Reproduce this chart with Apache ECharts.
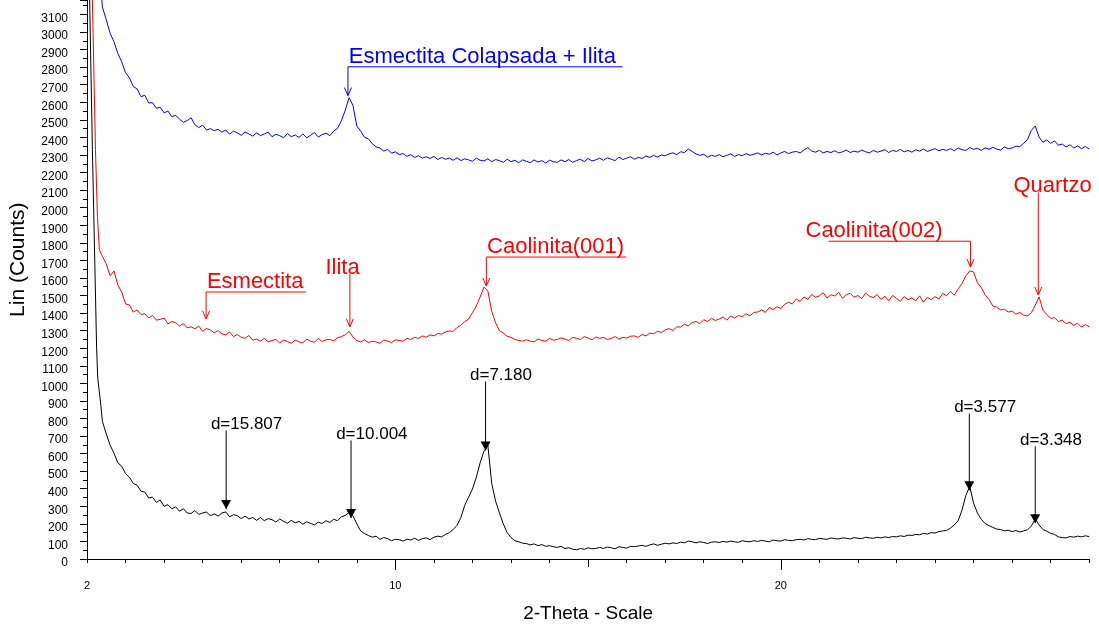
<!DOCTYPE html>
<html>
<head>
<meta charset="utf-8">
<script src="https://cdn.jsdelivr.net/npm/echarts@6/dist/echarts.min.js"></script>
<style>
html,body{margin:0;padding:0;background:#fff;}
#chart{width:1099px;height:628px;}
</style>
</head>
<body>
<div id="chart"></div>
<script>
// ---- scan grid (2-Theta) ----
const twoThetaStart = 2.4;
const twoThetaStep = 0.1;
const xLabelValues = [2, 10, 20];

// ---- steep low-angle starts: [2-Theta, counts] ----
const blackLead = [[2.05, 3400], [2.14, 2331], [2.25, 1197], [2.28, 1027], [2.36, 873]];
const redLead = [[2.12, 3400], [2.22, 2331], [2.27, 1951], [2.32, 1764], [2.36, 1740]];
const blueLead = [[2.33, 3400], [2.37, 3220]];

// ---- counts on the scan grid, 2.4 .. 28.0 ----
const blackCounts = [
 783,712,648,602,548,528,486,466,430,420,
 386,381,347,352,322,336,300,309,286,297,
 272,286,262,259,276,254,262,268,246,257,
 244,262,268,240,252,247,230,244,228,236,
 220,236,218,230,224,210,228,214,204,220,
 206,214,198,212,203,194,210,202,218,208,
 226,218,240,248,265,246,200,160,145,134,
 124,130,112,122,116,104,112,110,102,113,
 108,118,106,116,120,110,124,130,126,140,
 150,168,192,236,306,352,398,466,548,615,
 645,430,330,262,200,150,122,104,98,90,
 88,80,86,76,82,72,76,70,66,72,
 60,64,56,52,60,55,64,58,60,66,
 60,68,64,58,70,66,62,72,70,74,
 78,72,80,86,78,84,90,86,92,88,
 96,92,102,98,92,98,94,88,96,98,
 94,100,96,102,98,95,104,100,98,104,
 100,106,102,98,108,104,102,110,106,104,
 110,112,108,116,112,110,118,114,112,120,
 116,114,120,118,114,122,118,116,124,120,
 118,124,120,126,122,128,126,132,128,136,
 134,140,138,146,142,150,148,156,160,162,
 176,194,218,278,362,414,318,262,226,202,
 190,180,170,168,160,164,156,162,154,160,
 166,188,228,194,168,158,146,140,126,122,
 120,128,124,130,126,132,128
];
const redCounts = [
 1724,1680,1612,1640,1560,1520,1452,1446,1406,1418,
 1392,1396,1372,1386,1360,1364,1372,1338,1352,1346,
 1326,1340,1316,1322,1310,1326,1296,1312,1304,1288,
 1300,1282,1276,1292,1266,1278,1262,1256,1272,1246,
 1252,1240,1256,1236,1244,1250,1230,1246,1238,1228,
 1246,1236,1230,1252,1240,1234,1256,1238,1248,1250,
 1242,1260,1266,1276,1295,1264,1244,1236,1248,1232,
 1240,1236,1228,1246,1240,1232,1248,1244,1240,1256,
 1250,1262,1256,1270,1262,1276,1270,1284,1280,1292,
 1298,1296,1318,1330,1352,1366,1402,1440,1492,1548,
 1525,1410,1345,1300,1286,1268,1262,1250,1244,1240,
 1248,1240,1236,1252,1244,1240,1256,1246,1250,1258,
 1252,1244,1262,1256,1250,1266,1258,1248,1264,1256,
 1262,1250,1256,1266,1252,1262,1258,1268,1270,1262,
 1278,1270,1286,1282,1296,1290,1304,1312,1300,1322,
 1320,1336,1328,1346,1352,1340,1362,1352,1370,1358,
 1366,1378,1360,1384,1372,1386,1380,1396,1384,1404,
 1406,1418,1404,1432,1420,1436,1426,1450,1462,1452,
 1480,1466,1492,1478,1506,1490,1498,1516,1486,1504,
 1498,1518,1484,1506,1512,1490,1500,1482,1514,1496,
 1488,1506,1478,1496,1470,1500,1484,1466,1494,1476,
 1486,1470,1498,1462,1490,1476,1494,1480,1512,1498,
 1524,1502,1538,1568,1612,1640,1634,1572,1546,1504,
 1478,1440,1434,1418,1422,1406,1412,1394,1404,1388,
 1384,1402,1444,1492,1416,1392,1370,1374,1352,1360,
 1340,1348,1330,1342,1320,1334,1322
];
const blueCounts = [
 3142,3070,2992,2945,2878,2830,2768,2740,2690,2676,
 2632,2640,2596,2598,2566,2572,2540,2550,2518,2526,
 2504,2486,2496,2512,2472,2456,2470,2442,2450,2438,
 2446,2430,2442,2418,2436,2426,2412,2430,2420,2408,
 2426,2410,2420,2430,2404,2418,2410,2398,2422,2404,
 2414,2400,2420,2398,2412,2428,2402,2416,2424,2410,
 2436,2452,2495,2555,2626,2582,2465,2436,2400,2392,
 2364,2346,2340,2322,2332,2310,2318,2302,2308,2292,
 2302,2286,2296,2282,2290,2280,2292,2274,2286,2276,
 2282,2270,2284,2268,2278,2272,2264,2282,2270,2266,
 2278,2262,2274,2268,2258,2276,2262,2270,2256,2272,
 2264,2256,2272,2260,2268,2254,2270,2262,2258,2272,
 2262,2274,2258,2268,2276,2262,2280,2266,2272,2282,
 2270,2284,2276,2268,2288,2274,2282,2290,2276,2286,
 2280,2294,2286,2298,2288,2300,2296,2306,2312,2302,
 2318,2314,2334,2320,2306,2298,2304,2288,2298,2292,
 2302,2290,2298,2306,2292,2302,2296,2308,2298,2304,
 2312,2300,2310,2304,2316,2300,2312,2320,2308,2316,
 2320,2312,2328,2342,2322,2316,2326,2312,2320,2314,
 2324,2312,2318,2328,2314,2322,2316,2328,2318,2312,
 2326,2316,2322,2330,2314,2326,2320,2332,2318,2326,
 2316,2330,2322,2334,2320,2328,2336,2324,2332,2326,
 2336,2324,2340,2330,2326,2342,2332,2338,2326,2340,
 2332,2344,2334,2328,2346,2336,2340,2350,2348,2366,
 2388,2440,2465,2402,2372,2386,2366,2380,2356,2362,
 2346,2358,2340,2352,2336,2348,2334
];

// ---- peak annotations (2-Theta, arrow tip count, line top count, underline span, text anchor 2-Theta) ----
const blueNotes = [
 {label: 'Esmectita Colapsada + Ilita', x: 8.77, tip: 2638, top: 2802, under: [8.77, 15.89], tx: 8.79}
];
const redNotes = [
 {label: 'Esmectita', x: 5.09, tip: 1367, top: 1520, under: [5.09, 7.68], tx: 5.11},
 {label: 'Ilita', x: 8.82, tip: 1322, top: 1622, tx: 8.63},
 {label: 'Caolinita(001)', x: 12.36, tip: 1554, top: 1719, under: [12.36, 15.99], tx: 12.38},
 {label: 'Caolinita(002)', x: 24.92, tip: 1662, top: 1809, under: [21.24, 24.92], tx: 20.64},
 {label: 'Quartzo', x: 26.68, tip: 1503, top: 2087, tx: 27.05}
];
const blackNotes = [
 {label: 'd=15.807', x: 5.61, tip: 284, top: 732, tx: 6.14},
 {label: 'd=10.004', x: 8.85, tip: 233, top: 675, tx: 9.39},
 {label: 'd=7.180', x: 12.34, tip: 618, top: 1010, tx: 12.74},
 {label: 'd=3.577', x: 24.89, tip: 391, top: 828, tx: 25.30},
 {label: 'd=3.348', x: 26.6, tip: 204, top: 641, tx: 27.01}
];

const FONT = '"Liberation Sans", Arial, Helvetica, sans-serif';

function toPairs(lead, counts) {
  return lead.concat(counts.map((v, i) => [Math.round((twoThetaStart + i * twoThetaStep) * 100) / 100, v]));
}

function annotationSeries(notes, color, filled, fontSize) {
  return {
    type: 'custom',
    coordinateSystem: 'cartesian2d',
    silent: true,
    clip: false,
    z: 10,
    data: notes.map(n => [n.x, n.tip]),
    renderItem: function (params, api) {
      const n = notes[params.dataIndex];
      const tip = api.coord([n.x, n.tip]);
      const top = api.coord([n.x, n.top]);
      const ls = {stroke: color, lineWidth: 1, fill: null};
      const children = [];
      children.push({type: 'line', shape: {x1: top[0], y1: top[1], x2: tip[0], y2: tip[1]}, style: ls});
      if (n.under) {
        const u0 = api.coord([n.under[0], n.top]);
        const u1 = api.coord([n.under[1], n.top]);
        children.push({type: 'line', shape: {x1: u0[0], y1: u0[1], x2: u1[0], y2: u1[1]}, style: ls});
      }
      if (filled) {
        children.push({type: 'polygon', shape: {points: [[tip[0], tip[1]], [tip[0] - 5, tip[1] - 9], [tip[0] + 5, tip[1] - 9]]}, style: {fill: color}});
      } else {
        children.push({type: 'polyline', shape: {points: [[tip[0] - 3.5, tip[1] - 8], [tip[0], tip[1]], [tip[0] + 3.5, tip[1] - 8]]}, style: ls});
      }
      const tp = api.coord([n.tx, n.top]);
      children.push({
        type: 'text',
        style: {
          text: n.label,
          x: tp[0],
          y: n.under ? tp[1] - 10 : tp[1] - 6,
          align: n.under ? 'left' : 'center',
          verticalAlign: 'middle',
          fill: color,
          font: fontSize + 'px ' + FONT
        }
      });
      return {type: 'group', children: children};
    }
  };
}

const chart = echarts.init(document.getElementById('chart'), null, {renderer: 'canvas'});

const baseX = {
  type: 'value', min: 2, max: 28, interval: 1,
  splitLine: {show: false}
};

chart.setOption({
  animation: false,
  backgroundColor: '#fff',
  grid: {left: 84.5, right: 9.8, top: 0.4, bottom: 67, containLabel: false},
  xAxis: [
    Object.assign({}, baseX, {
      position: 'bottom',
      axisLine: {show: true, lineStyle: {color: '#000', width: 1}},
      axisTick: {show: true, length: 4, lineStyle: {color: '#000'}},
      axisLabel: {
        show: true, margin: 21, fontSize: 11, color: '#000', fontFamily: FONT,
        formatter: v => (xLabelValues.indexOf(Math.round(v * 1000) / 1000) >= 0 ? String(Math.round(v)) : '')
      },
      name: '2-Theta - Scale',
      nameLocation: 'middle',
      nameGap: 45,
      nameTextStyle: {fontSize: 19, color: '#000', fontFamily: FONT}
    }),
    Object.assign({}, baseX, {
      position: 'bottom',
      axisLine: {show: false},
      axisTick: {show: true, length: 8, customValues: [15], lineStyle: {color: '#000'}},
      axisLabel: {show: false}
    }),
    Object.assign({}, baseX, {
      position: 'bottom',
      axisLine: {show: false},
      axisTick: {show: true, length: 11, customValues: [10, 20], lineStyle: {color: '#000'}},
      axisLabel: {show: false}
    })
  ],
  yAxis: {
    type: 'value', min: 0, max: 3180, interval: 100,
    axisLine: {show: true, lineStyle: {color: '#000', width: 1}},
    axisTick: {show: true, length: 7, lineStyle: {color: '#000'}},
    minorTick: {show: true, splitNumber: 2, length: 4, lineStyle: {color: '#000'}},
    splitLine: {show: false},
    axisLabel: {
      show: true, margin: 19, fontSize: 12, color: '#000', fontFamily: FONT,
      showMaxLabel: false, verticalAlign: 'top', lineHeight: 8,
      formatter: v => String(v)
    },
    name: 'Lin (Counts)',
    nameLocation: 'middle',
    nameRotate: 90,
    nameGap: 58,
    nameTextStyle: {fontSize: 21, color: '#000', fontFamily: FONT, padding: [0, 0, 0, 40]}
  },
  series: [
    {type: 'line', name: 'black', data: toPairs(blackLead, blackCounts), showSymbol: false, symbol: 'none',
     lineStyle: {color: '#000', width: 1}, itemStyle: {color: '#000'}, z: 3},
    {type: 'line', name: 'red', data: toPairs(redLead, redCounts), showSymbol: false, symbol: 'none',
     lineStyle: {color: '#ff0000', width: 1}, itemStyle: {color: '#ff0000'}, z: 3},
    {type: 'line', name: 'blue', data: toPairs(blueLead, blueCounts), showSymbol: false, symbol: 'none',
     lineStyle: {color: '#0000ff', width: 1}, itemStyle: {color: '#0000ff'}, z: 3},
    annotationSeries(blueNotes, '#0000ff', false, 22),
    annotationSeries(redNotes, '#ff0000', false, 22),
    annotationSeries(blackNotes, '#000', true, 17)
  ]
});
</script>
</body>
</html>
